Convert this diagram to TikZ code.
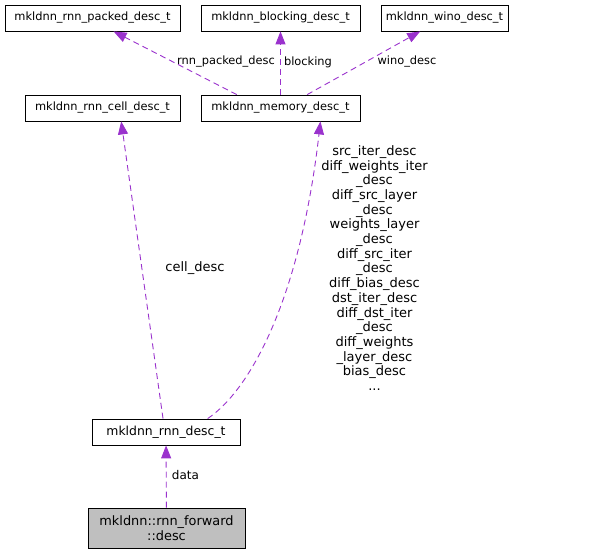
\documentclass[tikz,border=0pt]{standalone}
\usepackage{fontspec}
\setmainfont{DejaVu Sans}
\usetikzlibrary{arrows.meta,calc}
\definecolor{dlink}{HTML}{9A32CD}
\definecolor{dgry}{HTML}{BFBFBF}
\newcommand{\dxfont}{\fontsize{11.4}{14.7}\selectfont}
\newcommand{\dxbig}{\fontsize{13}{14.7}\selectfont}
\tikzset{
  cls/.style ={draw=black, line width=0.8pt, fill=white, inner sep=0pt,
               minimum height=26pt, align=center, font=\dxfont},
  cur/.style ={cls, fill=dgry, minimum height=40pt},
  lbl/.style ={inner sep=0pt, align=center, font=\dxfont},
  dep/.style ={draw=dlink, line width=0.9pt, dash pattern=on 6pt off 4pt,
               -{Triangle[length=13pt,width=10pt]}},
}

\begin{document}
\begin{tikzpicture}[x=1pt, y=-1pt]
  \useasboundingbox (0,0) rectangle (603,555);
  % top row
  \node[cls, minimum width=175pt] (packed) at (92.5,18) {mkldnn\_rnn\_packed\_desc\_t};
  \node[cls, minimum width=159pt] (block) at (280.5,18) {mkldnn\_blocking\_desc\_t};
  \node[cls, minimum width=127pt] (wino) at (444.5,18) {mkldnn\_wino\_desc\_t};
  % second row
  \node[cls, minimum width=155pt] (cell) at (102.5,108) {mkldnn\_rnn\_cell\_desc\_t};
  \node[cls, minimum width=159pt] (mem) at (280.5,108) {mkldnn\_memory\_desc\_t};
  % bottom
  \node[cls, minimum width=148pt, font=\fontsize{12.4}{14.7}\selectfont] (rd) at (166,432) {mkldnn\_rnn\_desc\_t};
  \node[cur, minimum width=157pt, font=\fontsize{12.9}{15}\selectfont] (fwd) at (166.5,528) {mkldnn::rnn\_forward\\::desc};

  \draw[dep] ($(mem.north west)!0.226!(mem.north east)$) -- ($(packed.south west)!0.62!(packed.south east)$);
  \draw[dep] (mem.north) -- (block.south);
  \draw[dep] ($(mem.north west)!0.667!(mem.north east)$) -- ($(wino.south west)!0.31!(wino.south east)$);
  \draw[dep] ($(rd.north west)!0.48!(rd.north east)$) -- ($(cell.south west)!0.62!(cell.south east)$);
  \draw[dep] ($(rd.north west)!0.78!(rd.north east)$) .. controls (250,390) and (300,300)
    .. ($(mem.south west)!0.75!(mem.south east)$);
  \draw[dep] (fwd) -- (rd);

  % edge labels
  \node[lbl] (lpacked) at (226,62) {rnn\_packed\_desc};
  \node[lbl] (lblock) at (308,62) {blocking};
  \node[lbl] (lwino) at (407,62) {wino\_desc};
  \node[lbl, font=\dxbig] (lcell) at (195,268) {cell\_desc};
  \node[lbl, font=\fontsize{12}{14.7}\selectfont] (ldata) at (185.5,475) {data};
  \node[lbl, font=\dxbig] (lmem) at (374.5,268) {src\_iter\_desc\\diff\_weights\_iter\\\_desc\\diff\_src\_layer\\\_desc\\weights\_layer\\\_desc\\diff\_src\_iter\\\_desc\\diff\_bias\_desc\\dst\_iter\_desc\\diff\_dst\_iter\\\_desc\\diff\_weights\\\_layer\_desc\\bias\_desc\\...};
\end{tikzpicture}
\end{document}
